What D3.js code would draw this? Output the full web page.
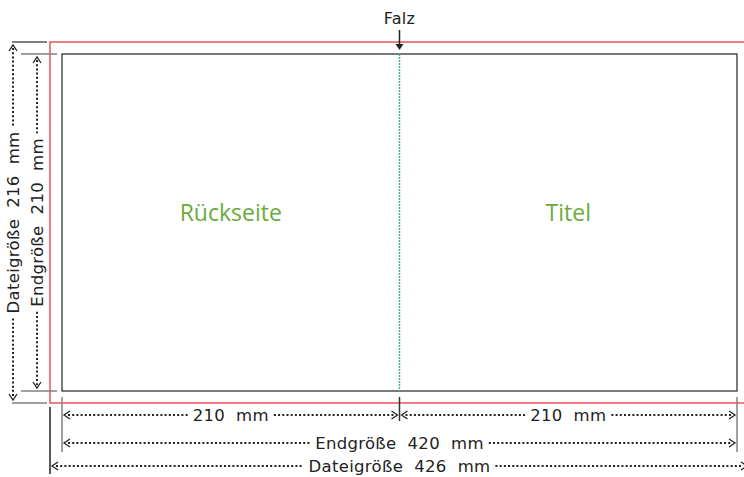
<!DOCTYPE html>
<html>
<head>
	<script src="https://cdn.jsdelivr.net/npm/d3@7"></script>
	<style>
		html, body {
			padding: 0;
			margin: 0;
			background: white;
		}
		text {
			font-family: "Open Sans", "DejaVu Sans", sans-serif;
			white-space: pre;
		}
		text.dim {
			font-family: "DejaVu Sans", sans-serif;
			letter-spacing: 0.3px;
		}
	</style>
</head>
<body>
	<script>
		var width = 744, height = 477;

		// ~ ~ ~ DATA (mm) ~ ~ ~
		const pageNames = ["Rückseite", "Titel"];
		const pageWidths = [210, 210];
		const finalHeight = 210;
		const fileHeight = 216;
		const finalWidth = 420;
		const fileWidth = 426;
		const foldLabel = "Falz";
		const sideLabels = ["Dateigröße  216  mm", "Endgröße  210  mm"];
		const bottomLabels = ["210  mm", "Endgröße  420  mm", "Dateigröße  426  mm"];

		// ~ ~ ~ STYLE ~ ~ ~
		const GREEN = "#6aab3b";
		const RED = "#e8474f";
		const GREY = "#808080";
		const BLEED_PX = 12; // bleed drawn wider than scale

		var svg = d3.select("body").append("svg")
			.attr("width", width)
			.attr("height", height);

		var x = d3.scaleLinear().domain([0, finalWidth]).range([62, 737]);
		var y = d3.scaleLinear().domain([0, finalHeight]).range([54, 391]);

		var foldX = x(pageWidths[0]);

		// bleed (red)
		svg.append("rect")
			.attr("x", x(0) - BLEED_PX).attr("y", y(0) - BLEED_PX)
			.attr("width", x(finalWidth) - x(0) + 2 * BLEED_PX)
			.attr("height", y(finalHeight) - y(0) + 2 * BLEED_PX)
			.attr("fill", "none").attr("stroke", RED).attr("stroke-width", 1.4);

		// trim (black)
		svg.append("rect")
			.attr("x", x(0)).attr("y", y(0))
			.attr("width", x(finalWidth) - x(0))
			.attr("height", y(finalHeight) - y(0))
			.attr("fill", "none").attr("stroke", "#222").attr("stroke-width", 1.2);

		// fold line
		svg.append("line")
			.attr("x1", foldX).attr("x2", foldX)
			.attr("y1", y(0)).attr("y2", y(finalHeight))
			.attr("stroke", "#3dbb7c").attr("stroke-width", 1.5)
			.attr("stroke-dasharray", "2,1");

		// page names
		var starts = [0, pageWidths[0]];
		svg.selectAll("text.page")
			.data(pageNames)
			.enter().append("text")
			.attr("class", "page")
			.attr("x", (d, i) => x(starts[i] + pageWidths[i] / 2))
			.attr("y", 221)
			.attr("text-anchor", "middle")
			.attr("fill", GREEN)
			.style("font-size", "23px")
			.style("font-weight", 500)
			.text(d => d);

		// Falz
		svg.append("text")
			.attr("class", "dim")
			.attr("x", foldX).attr("y", 24)
			.attr("text-anchor", "middle")
			.attr("fill", "#222")
			.style("font-size", "16px")
			.text(foldLabel);
		svg.append("line")
			.attr("x1", foldX).attr("x2", foldX)
			.attr("y1", 30).attr("y2", 46)
			.attr("stroke", "#222").attr("stroke-width", 1.5);
		svg.append("path")
			.attr("d", `M${foldX - 4},44 L${foldX + 4},44 L${foldX},50 Z`)
			.attr("fill", "#222");

		var DOTS = "2,2.2";
		var FS = "16.5px";

		// horizontal dimension with gap for label
		var hDim = function(x1, x2, yy, label) {
			var t = svg.append("text")
				.attr("class", "dim")
				.attr("x", (x1 + x2) / 2).attr("y", yy + 6)
				.attr("text-anchor", "middle")
				.attr("fill", "#222")
				.style("font-size", FS)
				.text(label);
			var w = t.node().getComputedTextLength();
			var gap = w / 2 + 5;
			var mid = (x1 + x2) / 2;
			[[x1 + 6, mid - gap], [mid + gap, x2 - 6]].forEach(function(s) {
				svg.append("line")
					.attr("x1", s[0]).attr("x2", s[1])
					.attr("y1", yy).attr("y2", yy)
					.attr("stroke", "#222").attr("stroke-width", 2)
					.attr("stroke-dasharray", DOTS);
			});
			// chevrons
			svg.append("path")
				.attr("d", `M${x1 + 8},${yy - 4} L${x1 + 2},${yy} L${x1 + 8},${yy + 4}` +
					`M${x2 - 8},${yy - 4} L${x2 - 2},${yy} L${x2 - 8},${yy + 4}`)
				.attr("fill", "none").attr("stroke", "#222").attr("stroke-width", 1.3);
		};

		// vertical dimension with gap for label
		var vDim = function(xx, y1, y2, label) {
			var mid = (y1 + y2) / 2;
			var t = svg.append("text")
				.attr("class", "dim")
				.attr("transform", `translate(${xx + 6},${mid}) rotate(-90)`)
				.attr("text-anchor", "middle")
				.attr("fill", "#222")
				.style("font-size", FS)
				.text(label);
			var w = t.node().getComputedTextLength();
			var gap = w / 2 + 5;
			[[y1 + 6, mid - gap], [mid + gap, y2 - 6]].forEach(function(s) {
				svg.append("line")
					.attr("x1", xx).attr("x2", xx)
					.attr("y1", s[0]).attr("y2", s[1])
					.attr("stroke", "#222").attr("stroke-width", 2)
					.attr("stroke-dasharray", DOTS);
			});
			svg.append("path")
				.attr("d", `M${xx - 4},${y1 + 9} L${xx},${y1 + 3} L${xx + 4},${y1 + 9}` +
					`M${xx - 4},${y2 - 9} L${xx},${y2 - 3} L${xx + 4},${y2 - 9}`)
				.attr("fill", "none").attr("stroke", "#222").attr("stroke-width", 1.3);
		};

		var tick = function(x1, y1, x2, y2, col) {
			svg.append("line")
				.attr("x1", x1).attr("y1", y1).attr("x2", x2).attr("y2", y2)
				.attr("stroke", col).attr("stroke-width", 1.5);
		};

		// left side: file size (outer) and final size (inner)
		var outerTop = y(0) - BLEED_PX, outerBot = y(finalHeight) + BLEED_PX;
		tick(12, outerTop, 47, outerTop, "#555");
		tick(12, outerBot, 47, outerBot, GREY);
		tick(21, y(0), 57, y(0), GREY);
		tick(21, y(finalHeight), 57, y(finalHeight), GREY);
		vDim(13, outerTop, outerBot, sideLabels[0]);
		vDim(37, y(0), y(finalHeight), sideLabels[1]);

		// bottom extension lines
		tick(x(0), 397, x(0), 452, GREY);
		tick(x(finalWidth), 397, x(finalWidth), 452, GREY);
		tick(foldX, 397, foldX, 421, "#333");
		tick(x(0) - BLEED_PX, 407, x(0) - BLEED_PX, 474, "#222");

		// bottom dims
		hDim(x(0), foldX, 415, bottomLabels[0]);
		hDim(foldX, x(finalWidth), 415, bottomLabels[0]);
		hDim(x(0), x(finalWidth), 443, bottomLabels[1]);
		hDim(x(0) - BLEED_PX, x(finalWidth) + BLEED_PX, 466, bottomLabels[2]);
	</script>
</body>
</html>
